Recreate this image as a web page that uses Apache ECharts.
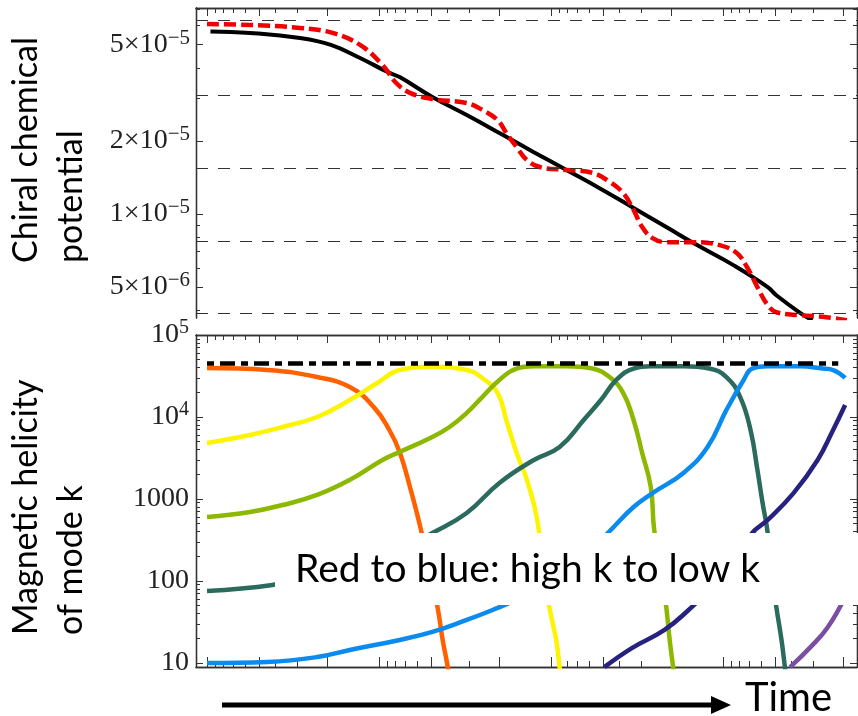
<!DOCTYPE html>
<html>
<head>
<meta charset="utf-8">
<script src="https://cdn.jsdelivr.net/npm/echarts@6.0.0/dist/echarts.min.js"></script>
<style>
html, body { margin: 0; padding: 0; background: #fff; }
#chart { width: 858px; height: 716px; }
</style>
</head>
<body>
<div id="chart"></div>
<script>
// x: time on a log scale, in decades (the figure has no x labels)
var xMin = -0.064, xMax = 3.779;

// top panel: chiral chemical potential
var muRange = [3.73e-6, 7.07e-5];
var muLabelTicks = [5e-5, 2e-5, 1e-5, 5e-6];
var muMinorTicks = [7e-5, 6e-5, 4e-5, 3e-5, 9e-6, 8e-6, 7e-6, 6e-6, 4e-6];
var muPlateaus = [6.25e-5, 3.125e-5, 1.5625e-5, 7.8125e-6, 3.90625e-6];

var muSolidT = [0.02, 0.25, 0.54, 0.72, 0.89, 1.05, 1.12, 1.31, 1.51, 1.70, 1.90, 2.09, 2.29, 2.48, 2.67, 2.87, 3.06, 3.26, 3.31, 3.45, 3.52];
var muSolid = [5.66e-5, 5.58e-5, 5.32e-5, 4.98e-5, 4.40e-5, 3.85e-5, 3.67e-5, 3.04e-5, 2.56e-5, 2.16e-5, 1.80e-5, 1.52e-5, 1.27e-5, 1.06e-5, 8.84e-6, 7.31e-6, 6.16e-6, 5.0e-6, 4.63e-6, 3.91e-6, 3.65e-6];

var muDashT = [0.0, 0.25, 0.54, 0.73, 0.89, 1.02, 1.10, 1.18, 1.31, 1.51, 1.60, 1.69, 1.74, 1.80, 1.86, 1.94, 2.09, 2.24, 2.34, 2.42, 2.48, 2.53, 2.59, 2.67, 2.83, 2.98, 3.08, 3.14, 3.20, 3.26, 3.31, 3.45, 3.60, 3.72];
var muDash = [6.07e-5, 6.02e-5, 5.85e-5, 5.58e-5, 4.98e-5, 4.12e-5, 3.47e-5, 3.16e-5, 2.98e-5, 2.87e-5, 2.69e-5, 2.44e-5, 2.16e-5, 1.89e-5, 1.67e-5, 1.56e-5, 1.52e-5, 1.48e-5, 1.36e-5, 1.22e-5, 1.04e-5, 8.84e-6, 7.96e-6, 7.66e-6, 7.66e-6, 7.45e-6, 6.91e-6, 6.04e-6, 5.0e-6, 4.21e-6, 3.94e-6, 3.83e-6, 3.76e-6, 3.65e-6];

// bottom panel: magnetic helicity of mode k
var helRange = [8.93, 1e5];
var helLabelTicks = [10, 100, 1000, 1e4, 1e5];
var helMax = 4.5e4;
var helMaxT = [0, 3.67];

var orangeT = [0, 0.35, 0.64, 0.83, 0.97, 1.06, 1.12, 1.18, 1.24, 1.29, 1.34, 1.37, 1.40, 1.41];
var orangeH = [3.96e4, 3.75e4, 3.07e4, 2.32e4, 1.32e4, 6.94e3, 3.74e3, 1.40e3, 456, 148, 48.2, 19.1, 8.9, 6.2];

var yellowT = [0, 0.25, 0.44, 0.64, 0.83, 0.99, 1.12, 1.31, 1.51, 1.60, 1.69, 1.74, 1.80, 1.86, 1.92, 1.95, 1.99, 2.03, 2.05, 2.06];
var yellowH = [4.82e3, 6.03e3, 7.55e3, 1.0e4, 1.61e4, 2.60e4, 3.74e4, 4.1e4, 3.74e4, 2.99e4, 1.96e4, 9.19e3, 3.64e3, 1.71e3, 555, 157, 48.2, 19.1, 8.9, 6.2];

var greenT = [0, 0.25, 0.44, 0.64, 0.83, 1.02, 1.12, 1.31, 1.41, 1.51, 1.60, 1.70, 1.80, 1.90, 2.09, 2.24, 2.34, 2.42, 2.48, 2.53, 2.58, 2.60, 2.64, 2.67, 2.69, 2.71, 2.72];
var greenH = [603, 694, 845, 1.12e3, 1.71e3, 2.99e3, 3.74e3, 5.70e3, 7.55e3, 1.12e4, 1.75e4, 2.83e4, 3.9e4, 4.15e4, 4.15e4, 3.9e4, 3.07e4, 1.96e4, 9.19e3, 3.64e3, 1.40e3, 418, 136, 48.2, 19.1, 8.9, 6.2];

var tealT = [0, 0.38, 0.54, 0.83, 1.12, 1.31, 1.51, 1.70, 1.90, 2.05, 2.19, 2.29, 2.38, 2.48, 2.58, 2.77, 2.92, 3.02, 3.10, 3.16, 3.20, 3.23, 3.26, 3.28, 3.31, 3.34, 3.36, 3.37];
var tealH = [75.5, 89.4, 109, 148, 239, 385, 675, 1.57e3, 2.99e3, 4.3e3, 9.19e3, 1.61e4, 2.83e4, 3.9e4, 4.15e4, 4.15e4, 3.9e4, 3.07e4, 1.75e4, 6.94e3, 2.26e3, 894, 385, 136, 48.2, 19.1, 8.9, 6.2];

var blueT = [0, 0.35, 0.64, 0.83, 1.12, 1.31, 1.51, 1.66, 1.82, 1.99, 2.17, 2.33, 2.48, 2.59, 2.77, 2.91, 3.02, 3.12, 3.17, 3.26, 3.45, 3.58, 3.64, 3.71];
var blueH = [10.0, 10.3, 11.8, 14.4, 19.1, 23.9, 33.5, 44.3, 62, 97, 180, 385, 798, 1.18e3, 2.08e3, 4.3e3, 1.22e4, 2.83e4, 3.9e4, 4.15e4, 4.15e4, 3.9e4, 3.74e4, 2.99e4];

var navyT = [2.31, 2.47, 2.66, 2.80, 2.95, 3.07, 3.17, 3.26, 3.41, 3.55, 3.64, 3.71];
var navyH = [8.9, 15.2, 25.3, 44.3, 89.4, 180, 385, 555, 1.18e3, 2.99e3, 6.94e3, 1.40e4];

var purpleT = [3.39, 3.51, 3.61, 3.71];
var purpleH = [8.9, 15.7, 27.5, 63.8];

var modeColors = ['#ff6000', '#fcf400', '#8cb800', '#2b6b5e', '#0b8bef', '#27227f', '#7a4ea0'];

var chart = echarts.init(document.getElementById('chart'));

var log = Math.log10;
var frame = '#333';
var serif = 'Liberation Serif';

// reversed log ticks on time axis: decades at n, then n + 1 - log10(m)
var xMajor = [], xMinor = [];
for (var n = 0; n <= 3; n++) {
    [10, 5, 2].forEach(function (m) { var s = n + 1 - log(m); if (s >= xMin && s <= xMax) xMajor.push(s); });
    [9, 8, 7, 6, 4, 3].forEach(function (m) { var s = n + 1 - log(m); if (s >= xMin && s <= xMax) xMinor.push(s); });
}
var helMinor = [];
for (var e = 1; e <= 4; e++) {
    for (var m = 2; m <= 9; m++) helMinor.push(log(m * Math.pow(10, e)));
}

function pts(t, v) {
    return t.map(function (x, i) { return [x, log(v[i])]; });
}

function axis(grid, pos, min, max, ticks, len, label) {
    return {
        type: 'value', gridIndex: grid, position: pos, min: min, max: max,
        axisLine: {show: true, onZero: false, lineStyle: {color: frame, width: 1.3}},
        axisTick: {show: true, inside: true, length: len, customValues: ticks, lineStyle: {color: frame, width: 1}},
        axisLabel: label || {show: false},
        splitLine: {show: false}
    };
}

var muLabel = {
    show: true, margin: 6, customValues: muLabelTicks.map(log),
    fontFamily: serif, fontSize: 28, color: '#222',
    rich: {
        n: {fontFamily: serif, fontSize: 28, color: '#222', lineHeight: 34},
        s: {fontFamily: serif, fontSize: 21, color: '#222', lineHeight: 21, verticalAlign: 'top'}
    },
    formatter: function (v) {
        var ex = Math.floor(v + 1e-9);
        var mant = Math.round(Math.pow(10, v - ex));
        return '{n|' + mant + '\u00d710}{s|\u2212' + (-ex) + '}';
    }
};
var helLabel = {
    show: true, margin: 7, customValues: helLabelTicks.map(log),
    fontFamily: serif, fontSize: 28, color: '#222',
    rich: {
        n: {fontFamily: serif, fontSize: 28, color: '#222', lineHeight: 34},
        s: {fontFamily: serif, fontSize: 20, color: '#222', lineHeight: 20, verticalAlign: 'top'}
    },
    formatter: function (v) {
        var ex = Math.round(v);
        return ex <= 3 ? '{n|' + Math.pow(10, ex) + '}' : '{n|10}{s|' + ex + '}';
    }
};

var muMin = log(muRange[0]), muMax = log(muRange[1]);
var hMin = log(helRange[0]), hMax = log(helRange[1]);

var modes = [
    ['k1', orangeT, orangeH], ['k2', yellowT, yellowH], ['k3', greenT, greenH],
    ['k4', tealT, tealH], ['k5', blueT, blueH], ['k6', navyT, navyH], ['k7', purpleT, purpleH]
];

var series = [
    {
        type: 'line', xAxisIndex: 0, yAxisIndex: 0, data: [], silent: true, z: 1,
        markLine: {
            silent: true, symbol: ['none', 'none'], label: {show: false},
            lineStyle: {type: [12, 10], color: '#333', width: 1.2},
            data: muPlateaus.map(function (v) { return {yAxis: log(v)}; })
        }
    },
    {
        name: 'solid', type: 'line', xAxisIndex: 0, yAxisIndex: 0, data: pts(muSolidT, muSolid),
        showSymbol: false, smooth: 0.45, lineStyle: {color: '#000', width: 4}, z: 3
    },
    {
        name: 'dashed', type: 'line', xAxisIndex: 0, yAxisIndex: 0, data: pts(muDashT, muDash),
        showSymbol: false, smooth: 0.4, lineStyle: {color: '#f20000', width: 4.5, type: [12, 5]}, z: 4
    }
];
modes.forEach(function (md, i) {
    series.push({
        name: md[0], type: 'line', xAxisIndex: 2, yAxisIndex: 4, data: pts(md[1], md[2]),
        showSymbol: false, smooth: 0.45, lineStyle: {color: modeColors[i], width: 4.5}, z: 3
    });
});
series.push({
    name: 'max', type: 'line', xAxisIndex: 2, yAxisIndex: 4,
    data: helMaxT.map(function (t) { return [t, log(helMax)]; }),
    showSymbol: false, lineStyle: {color: '#000', width: 4.5, type: [7, 6, 15, 6]}, z: 5
});

chart.setOption({
    animation: false,
    grid: [
        {left: 196, right: 1, top: 8, height: 310, outerBoundsMode: 'none'},
        {left: 196, right: 1, top: 335, height: 332, outerBoundsMode: 'none'}
    ],
    xAxis: [
        axis(0, 'top', xMin, xMax, xMajor, 8),
        axis(0, 'top', xMin, xMax, xMinor, 5),
        axis(1, 'bottom', xMin, xMax, xMajor, 10),
        axis(1, 'bottom', xMin, xMax, xMinor, 6),
        axis(1, 'top', xMin, xMax, xMajor, 8),
        axis(1, 'top', xMin, xMax, xMinor, 5)
    ],
    yAxis: [
        axis(0, 'left', muMin, muMax, muLabelTicks.map(log), 7, muLabel),
        axis(0, 'left', muMin, muMax, muMinorTicks.map(log), 4),
        axis(0, 'right', muMin, muMax, muLabelTicks.map(log), 7),
        axis(0, 'right', muMin, muMax, muMinorTicks.map(log), 4),
        axis(1, 'left', hMin, hMax, helLabelTicks.map(log), 7, helLabel),
        axis(1, 'left', hMin, hMax, helMinor, 4),
        axis(1, 'right', hMin, hMax, helLabelTicks.map(log), 7),
        axis(1, 'right', hMin, hMax, helMinor, 4)
    ],
    series: series,
    graphic: [
        {type: 'text', x: 26, y: 263, rotation: Math.PI / 2, z: 100,
         style: {text: 'Chiral chemical', font: '34px Lato', fill: '#000', align: 'left', verticalAlign: 'middle'}},
        {type: 'text', x: 71, y: 263, rotation: Math.PI / 2, z: 100,
         style: {text: 'potential', font: '34px Lato', fill: '#000', align: 'left', verticalAlign: 'middle'}},
        {type: 'text', x: 26, y: 635, rotation: Math.PI / 2, z: 100,
         style: {text: 'Magnetic helicity', font: '34px Lato', fill: '#000', align: 'left', verticalAlign: 'middle'}},
        {type: 'text', x: 71, y: 635, rotation: Math.PI / 2, z: 100,
         style: {text: 'of mode k', font: '34px Lato', fill: '#000', align: 'left', verticalAlign: 'middle'}},
        {type: 'rect', z: 100, shape: {x: 275, y: 533, width: 583, height: 72}, style: {fill: '#fff'}},
        {type: 'text', x: 295, y: 569, z: 101,
         style: {text: 'Red to blue: high k to low k', font: '39px Lato', fill: '#000', verticalAlign: 'middle'}},
        {type: 'line', z: 100, shape: {x1: 222, y1: 705, x2: 716, y2: 705}, style: {stroke: '#000', lineWidth: 5}},
        {type: 'polygon', z: 100, shape: {points: [[711, 696], [731, 705], [711, 714]]}, style: {fill: '#000'}},
        {type: 'text', x: 745, y: 698, z: 100,
         style: {text: 'Time', font: '40px Lato', fill: '#000', verticalAlign: 'middle'}}
    ]
});
</script>
</body>
</html>
